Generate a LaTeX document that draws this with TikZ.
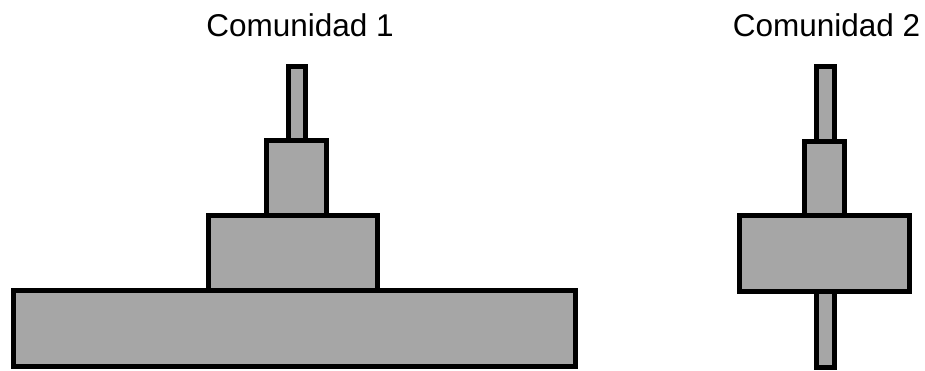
\documentclass[tikz,border=0pt]{standalone}
\usepackage{fontspec}
\setmainfont{Liberation Sans}
\definecolor{bargray}{HTML}{A6A6A6}
\begin{document}
\begin{tikzpicture}[x=1pt,y=-1pt,
  bar/.style={draw=black, fill=bargray, line width=5pt, inner sep=0pt, outer sep=0pt, rectangle},
  lbl/.style={anchor=base, font=\fontsize{31.5}{38}\selectfont, inner sep=0pt}]
\useasboundingbox (0,0) rectangle (925,371);
% Comunidad 1
\node[lbl] (t1) at (300,37) {Comunidad 1};
\node[bar, minimum width=17, minimum height=74] (c1a) at (297,103.5) {};
\node[bar, minimum width=60, minimum height=75] (c1b) at (296.5,178) {};
\node[bar, minimum width=169, minimum height=75] (c1c) at (293,253) {};
\node[bar, minimum width=562, minimum height=76] (c1d) at (294.5,328.5) {};
% Comunidad 2
\node[lbl] (t2) at (826.5,37) {Comunidad 2};
\node[bar, minimum width=18, minimum height=75] (c2a) at (825.5,104) {};
\node[bar, minimum width=18, minimum height=76] (c2d) at (825.5,329.5) {};
\node[bar, minimum width=40, minimum height=74] (c2b) at (824.5,178.5) {};
\node[bar, minimum width=170, minimum height=76] (c2c) at (824.5,253.5) {};
\end{tikzpicture}
\end{document}
